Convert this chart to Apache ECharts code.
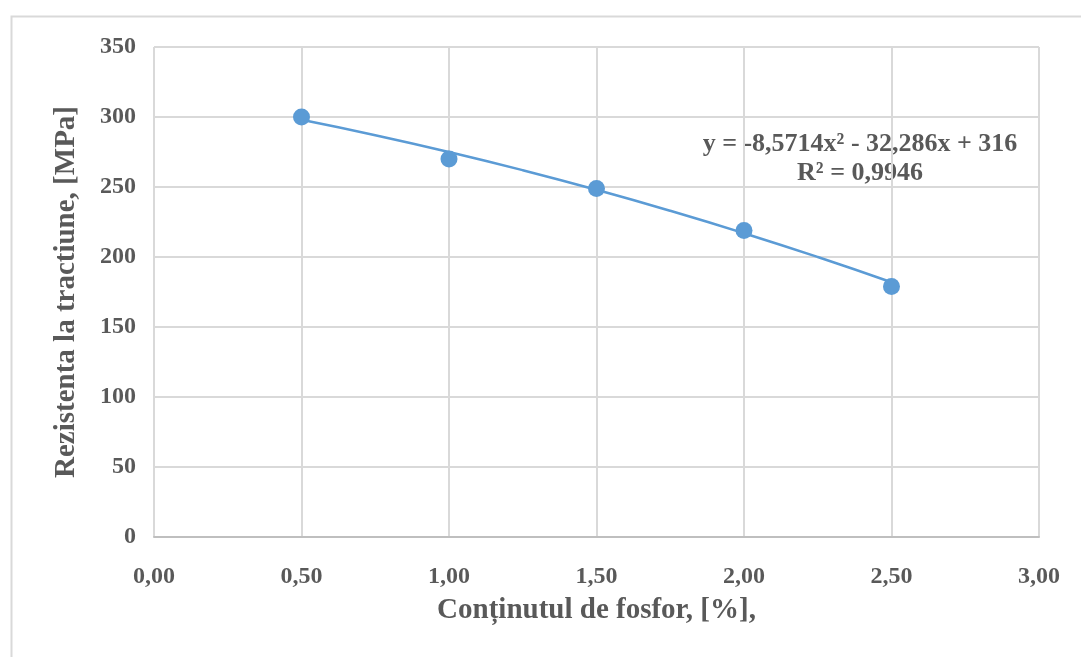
<!DOCTYPE html>
<html>
<head>
<meta charset="utf-8">
<script src="https://cdn.jsdelivr.net/npm/echarts@6/dist/echarts.min.js"></script>
<style>
html, body { margin: 0; padding: 0; background: #fff; }
#chart { width: 1081px; height: 657px; }
</style>
</head>
<body>
<div id="chart"></div>
<script>
// masuratori
var xData = [0.5, 1.0, 1.5, 2.0, 2.5];
var yData = [300, 270, 249, 219, 179];
// linia de tendinta (polinomiala)
var xTrend = [0.5, 0.75, 1.0, 1.25, 1.5, 1.75, 2.0, 2.25, 2.5];
var yTrend = [298, 287, 275, 262, 248, 233, 217, 200, 182];
var eqText = 'y = -8,5714x² - 32,286x + 316';
var r2Text = 'R² = 0,9946';

var txt = '#595959';
var font = '"Liberation Serif", "Times New Roman", serif';

var chart = echarts.init(document.getElementById('chart'));

var option = {
  animation: false,
  grid: { left: 154, top: 47, right: 42, bottom: 120 },
  graphic: [
    {
      type: 'rect', left: 9, top: 14, silent: true,
      shape: { width: 1200, height: 800 },
      style: { fill: 'none', stroke: '#d9d9d9', lineWidth: 2 }
    },
    {
      type: 'text', x: 860, y: 144,
      style: { text: eqText, fill: txt, font: 'bold 26px ' + font, align: 'center', verticalAlign: 'middle' }
    },
    {
      type: 'text', x: 860, y: 173,
      style: { text: r2Text, fill: txt, font: 'bold 26px ' + font, align: 'center', verticalAlign: 'middle' }
    }
  ],
  xAxis: {
    type: 'value', min: 0, max: 3, interval: 0.5,
    name: 'Conținutul de fosfor, [%],',
    nameLocation: 'middle', nameGap: 59,
    nameTextStyle: { color: txt, fontFamily: font, fontWeight: 'bold', fontSize: 29 },
    axisLine: { show: true, lineStyle: { color: '#bfbfbf', width: 2 } },
    axisTick: { show: false },
    splitLine: { show: true, lineStyle: { color: '#d9d9d9', width: 2 } },
    axisLabel: {
      color: txt, fontFamily: font, fontWeight: 'bold', fontSize: 24, margin: 28,
      formatter: function (v) { return v.toFixed(2).replace('.', ','); }
    }
  },
  yAxis: {
    type: 'value', min: 0, max: 350, interval: 50,
    name: 'Rezistenta la tractiune, [MPa]',
    nameLocation: 'middle', nameGap: 73,
    nameTextStyle: { color: txt, fontFamily: font, fontWeight: 'bold', fontSize: 29 },
    axisLine: { show: false },
    axisTick: { show: false },
    splitLine: { show: true, lineStyle: { color: '#d9d9d9', width: 2 } },
    axisLabel: { color: txt, fontFamily: font, fontWeight: 'bold', fontSize: 24, margin: 18 }
  },
  series: [
    {
      name: 'trend', type: 'line', smooth: true, showSymbol: false,
      data: xTrend.map(function (x, i) { return [x, yTrend[i]]; }),
      lineStyle: { color: '#5b9bd5', width: 2.5 },
      z: 2
    },
    {
      name: 'date', type: 'scatter', symbolSize: 17,
      data: xData.map(function (x, i) { return [x, yData[i]]; }),
      itemStyle: { color: '#5b9bd5', opacity: 1 },
      z: 3
    }
  ]
};

chart.setOption(option);
</script>
</body>
</html>
